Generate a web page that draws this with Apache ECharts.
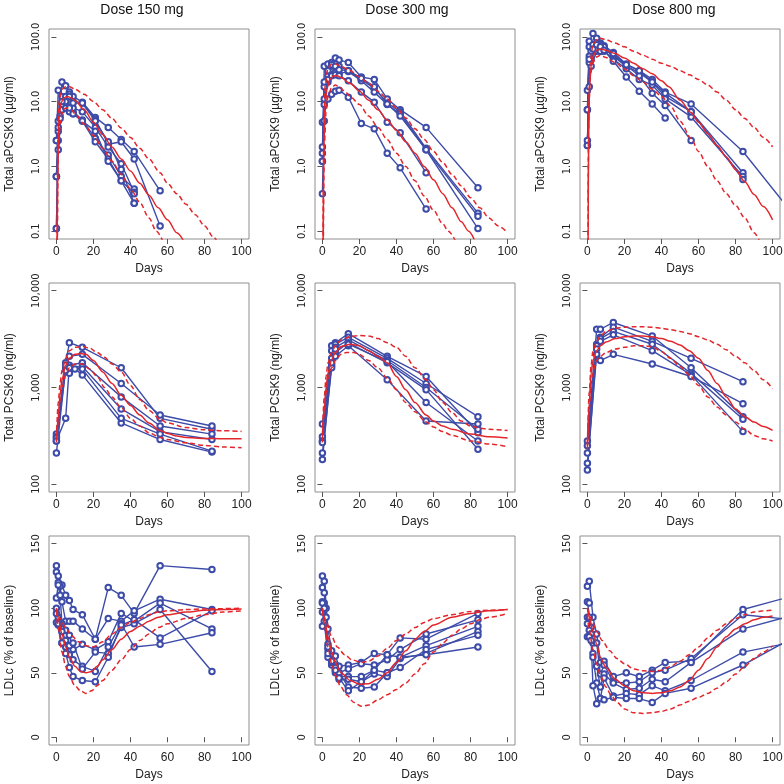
<!DOCTYPE html>
<html><head><meta charset="utf-8">
<script src="https://cdn.jsdelivr.net/npm/echarts@6/dist/echarts.min.js"></script>
<style>html,body{margin:0;padding:0;background:#fff}#c{width:784px;height:784px}</style>
</head><body><div id="c"></div>
<script>
// ---------- tick labels / titles ----------
const doseTitles = ['Dose 150 mg', 'Dose 300 mg', 'Dose 800 mg'];
const xTicks = [0, 20, 40, 60, 80, 100];
const yTicksRow1 = [0.1, 1, 10, 100];
const yTicksRow2 = [100, 1000, 10000];
const yTicksRow3 = [0, 50, 100, 150];
const yNames = ['Total aPCSK9 (\u00b5g/ml)', 'Total PCSK9 (ng/ml)', 'LDLc (% of baseline)'];

// ---------- Row 1: total aPCSK9 (µg/ml), observed subjects [day, value] ----------
const apcsk9_150_subjects = [
  [[0,0.11],[1,3.5],[3,20],[5,17.5],[7,14],[9,12],[14,9.8],[21,5.7],[28,4.0],[35,2.6],[42,1.7],[56,0.42]],
  [[0,2.5],[1,15],[3,12],[5,11],[7,13],[9,10],[14,9.5],[21,5.3],[28,2.2],[35,2.4],[42,1.3],[56,0.12]],
  [[0,0.7],[1,5],[2,6],[5,8],[7,7.5],[9,7],[14,5.2],[21,2.7],[28,1.5],[35,0.7],[42,0.45]],
  [[0,0.7],[1,2.5],[3,8],[5,9],[7,8],[9,6.5],[14,5],[21,2.4],[28,1.3],[35,0.6],[42,0.27]],
  [[0,2.5],[1,1.8],[3,9],[5,10],[7,7],[9,8],[14,7],[21,4],[28,2],[35,1.1],[42,0.4]],
  [[0,0.11],[1,4],[3,10],[5,12],[7,12],[9,9.5],[14,9.5],[21,5],[28,2.4],[35,0.9],[42,0.27]],
  [[0,0.7],[2,5.5],[3,7.5],[5,8],[7,8],[9,6.5],[14,5],[21,3.5],[28,1.2],[35,0.6],[42,0.38]]
];
const apcsk9_150_median = [[0.3,0.02],[0.8,1.5],[1.5,6],[2.5,9.5],[4,11.5],[6,12],[8,11.5],[10,10.5],[15,7.5],[20,4.8],[25,3.1],[30,2.0],[35,1.3],[40,0.85],[45,0.55],[50,0.36],[55,0.23],[60,0.15],[65,0.095],[70,0.06]];
const apcsk9_150_p95 = [[0.3,0.03],[0.8,3],[1.5,10],[3,15.5],[5,17],[7,17],[10,15.5],[15,13],[20,10],[25,7.5],[30,5.5],[35,3.9],[40,2.8],[45,1.9],[50,1.3],[56,0.8],[60,0.55],[65,0.38],[70,0.26],[75,0.18],[80,0.12],[85,0.08],[88,0.06]];
const apcsk9_150_p05 = [[0.4,0.02],[1,1.5],[2,4.5],[3,6.5],[4.5,7.8],[6,8],[8,7.5],[10,6.5],[15,4.5],[20,3],[25,1.9],[30,1.2],[35,0.75],[40,0.45],[45,0.28],[50,0.16],[54,0.1],[58,0.065]];

const apcsk9_300_subjects = [
  [[0,1.2],[1,35],[3,38],[5,40],[7,47],[9,44],[14,40],[21,24],[28,22],[35,11],[42,7.5],[56,4],[84,0.47]],
  [[0,2.0],[1,17],[3,25],[5,35],[7,38],[9,35],[14,30],[21,22],[28,16],[35,9.5],[42,7],[56,1.9],[84,0.19]],
  [[0,1.6],[1,11],[3,20],[5,26],[7,28],[9,27],[14,29],[21,21],[28,14],[35,9],[42,6.5],[56,1.8],[84,0.17]],
  [[0,4.8],[1,5],[3,11],[5,13],[7,14.5],[9,15],[14,11.7],[21,4.6],[28,3.8],[35,1.6],[42,0.95],[56,0.22]],
  [[0,0.38],[1,9],[3,22],[5,25],[7,26],[9,25],[14,21],[21,14],[28,9.8],[35,4.8],[42,3.3],[56,0.8]],
  [[0,1.2],[1,20],[3,30],[5,37],[7,35],[9,31],[14,30],[21,23],[28,17],[35,9.2],[42,6],[56,1.8],[84,0.11]]
];
const apcsk9_300_median = [[0.3,0.02],[0.8,2],[1.5,9],[2.5,16],[4,22],[6,25],[8,25],[10,23.5],[15,19],[20,14.5],[25,10.5],[30,7.5],[35,5.2],[40,3.6],[45,2.4],[50,1.6],[55,1.0],[60,0.62],[65,0.38],[70,0.23],[75,0.14],[79,0.1],[82,0.075]];
const apcsk9_300_p95 = [[0.3,0.05],[0.8,5],[1.5,18],[3,33],[5,38],[7,38],[10,35],[15,30],[20,24],[25,19],[30,14.5],[35,11],[40,8],[45,5.6],[50,3.8],[55,2.6],[60,1.7],[65,1.15],[70,0.75],[75,0.5],[80,0.33],[85,0.23],[90,0.16],[95,0.12],[100,0.095]];
const apcsk9_300_p05 = [[0.4,0.02],[1,2],[2,7],[3,12],[5,16.5],[7,18],[9,17],[12,14.5],[15,12],[20,9],[25,6],[30,4],[35,2.6],[40,1.6],[45,1],[50,0.6],[55,0.35],[60,0.21],[65,0.13],[68,0.1],[72,0.07]];

const apcsk9_800_subjects = [
  [[0,2.1],[1,85],[3,112],[5,95],[7,80],[9,73],[14,57],[21,38],[28,30],[35,22],[42,14],[56,9.2],[84,1.7],[112,0.17]],
  [[0,7.5],[1,70],[2,60],[5,80],[7,70],[9,65],[14,50],[21,35],[28,28],[35,20],[42,12],[56,7],[84,0.8]],
  [[0,15],[1,50],[2,45],[5,70],[7,60],[9,60],[14,45],[21,32],[28,22],[35,18],[42,11],[56,5.8],[84,0.7]],
  [[0,2.5],[1,17],[2,35],[5,60],[7,75],[9,62],[14,42],[21,24],[28,14.5],[35,9.2],[42,5.6]],
  [[0,2.1],[1,40],[3,75],[5,65],[7,60],[9,70],[14,52],[21,36],[28,25],[35,13.5],[42,8.7],[56,2.5]],
  [[0,7.5],[1,45],[3,65],[5,75],[7,70],[9,62],[14,55],[21,37],[28,30],[35,20],[42,13.5],[56,7],[84,0.63]]
];
const apcsk9_800_median = [[0.3,0.02],[0.7,3],[1.2,18],[2,35],[3,50],[5,62],[7,65],[10,62],[15,55],[20,47],[25,39],[30,32],[35,27],[40,21],[44,17],[50,10.5],[56,6.8],[60,4.8],[65,3.2],[70,2.1],[75,1.4],[80,0.9],[85,0.58],[90,0.37],[95,0.24],[100,0.15]];
const apcsk9_800_p95 = [[0.3,0.05],[0.7,10],[1.5,40],[3,75],[5,90],[7,95],[10,90],[15,80],[20,70],[25,60],[30,52],[35,45],[40,39],[45,35],[50,30],[55,26],[60,22],[65,18],[70,14],[75,10.5],[80,7.5],[85,5.5],[90,4],[95,2.8],[100,2]];
const apcsk9_800_p05 = [[0.4,0.3],[0.8,8],[1.5,25],[3,40],[5,49],[7,52],[10,48],[15,40],[20,32],[25,25],[30,20],[35,15.5],[40,12],[45,8.5],[50,5],[56,2.7],[60,1.7],[65,1],[70,0.6],[75,0.38],[80,0.25],[85,0.16],[90,0.095],[93,0.07]];

// ---------- Row 2: total PCSK9 (ng/ml) ----------
const pcsk9_150_subjects = [
  [[0,330],[5,1800],[7,2900],[14,2600],[35,1600],[56,480],[84,370]],
  [[0,310],[5,1700],[7,2100],[14,2200],[35,1100],[56,520],[84,400]],
  [[0,280],[5,480],[7,1700],[14,1800],[35,800],[56,400],[84,330]],
  [[0,210],[5,1600],[7,1600],[14,1650],[35,600],[56,350],[84,290]],
  [[0,300],[5,1700],[7,1400],[10,1550],[14,1350],[35,430],[56,290],[84,215]],
  [[0,280],[5,1500],[7,1600],[14,1550],[35,480],[56,330],[84,220]]
];
const pcsk9_150_median = [[0,280],[1,500],[2,850],[3,1200],[5,1700],[7,2000],[10,2200],[13,2250],[16,2200],[20,1900],[25,1450],[30,1100],[35,830],[40,650],[45,520],[50,430],[56,360],[60,335],[65,315],[70,305],[80,298],[90,295],[100,295]];
const pcsk9_150_p95 = [[0,300],[1,700],[2,1100],[3,1500],[5,2000],[7,2400],[10,2600],[14,2650],[18,2550],[22,2300],[26,2050],[30,1750],[35,1450],[40,1050],[45,750],[50,580],[56,470],[60,430],[70,385],[80,365],[90,358],[100,352]];
const pcsk9_150_p05 = [[0,270],[1,450],[2,750],[3,1000],[5,1350],[7,1600],[10,1750],[14,1750],[18,1550],[22,1300],[26,1000],[30,800],[35,620],[40,480],[45,400],[50,340],[56,305],[60,290],[70,268],[80,252],[90,243],[100,238]];

const pcsk9_300_subjects = [
  [[0,420],[5,2700],[7,2900],[14,3600],[35,2100],[56,1300],[84,340]],
  [[0,310],[5,2400],[7,2800],[14,3300],[35,2000],[56,1100],[84,500]],
  [[0,280],[5,2000],[7,2600],[14,3100],[35,1900],[56,1000],[84,370]],
  [[0,270],[5,1700],[7,2300],[14,2900],[35,1800],[56,950],[84,230]],
  [[0,210],[5,1600],[7,2100],[14,2700],[35,1200],[56,450],[84,420]],
  [[0,180],[5,1800],[7,2500],[14,2800],[35,1850],[56,700],[84,280]]
];
const pcsk9_300_median = [[0,300],[1,600],[2,1000],[3,1400],[5,1950],[7,2300],[10,2650],[15,2800],[20,2700],[25,2400],[30,2100],[35,1800],[40,1300],[45,950],[50,700],[56,520],[60,450],[65,400],[70,370],[80,330],[90,310],[100,300]];
const pcsk9_300_p95 = [[0,320],[1,800],[2,1300],[3,1800],[5,2300],[7,2700],[10,3100],[15,3350],[20,3450],[25,3400],[30,3200],[35,2900],[40,2600],[45,2100],[50,1600],[56,1200],[60,950],[65,700],[70,550],[75,450],[80,400],[85,380],[90,370],[100,360]];
const pcsk9_300_p05 = [[0,270],[1,550],[2,900],[3,1200],[5,1600],[7,1900],[10,2200],[13,2300],[17,2300],[20,2200],[25,1900],[30,1600],[35,1250],[40,950],[45,700],[50,560],[56,440],[60,390],[65,350],[70,320],[80,280],[90,260],[100,245]];

const pcsk9_800_subjects = [
  [[0,280],[5,4000],[7,4000],[14,4700],[35,3400],[56,1600],[84,500]],
  [[0,250],[5,2800],[7,3300],[14,4200],[35,3000],[56,2000],[84,1150]],
  [[0,210],[5,2700],[7,3200],[14,3800],[35,2800],[56,1400],[84,470]],
  [[0,165],[5,2200],[7,3000],[14,3500],[35,2400],[56,1350],[84,350]],
  [[0,140],[5,2500],[7,1900],[14,2200],[35,1750],[56,1300],[84,680]]
];
const pcsk9_800_median = [[0,250],[1,700],[2,1400],[3,1900],[5,2400],[7,2700],[10,2950],[15,3200],[20,3350],[25,3400],[30,3400],[35,3350],[40,3200],[45,3000],[50,2750],[55,2400],[60,2000],[65,1500],[70,1100],[75,800],[80,600],[85,500],[90,440],[95,395],[100,360]];
const pcsk9_800_p95 = [[0,260],[1,900],[2,1700],[3,2400],[5,3000],[7,3400],[10,3800],[15,4100],[20,4200],[25,4250],[30,4250],[35,4200],[40,4100],[45,3950],[50,3800],[55,3600],[60,3350],[65,3100],[70,2800],[75,2450],[80,2100],[85,1800],[90,1500],[95,1200],[100,970]];
const pcsk9_800_p05 = [[0,230],[1,600],[2,1100],[3,1500],[5,1900],[7,2100],[10,2300],[15,2500],[20,2600],[25,2700],[30,2700],[35,2650],[40,2350],[45,2000],[50,1650],[55,1350],[60,1050],[65,800],[70,630],[75,520],[80,440],[85,370],[90,320],[95,295],[100,280]];

// ---------- Row 3: LDLc (% of baseline) ----------
const ldl_150_subjects = [
  [[0,128],[1,125],[3,118],[5,110],[7,106],[9,99],[14,95],[21,76],[28,116],[35,110],[42,96],[56,133],[84,130]],
  [[0,133],[1,120],[2,117],[3,105],[5,90],[7,90],[9,90],[14,84],[21,76],[28,92],[35,90],[42,98],[56,107],[84,99]],
  [[0,108],[1,118],[2,110],[3,88],[5,83],[7,79],[9,68],[14,72],[21,68],[28,74],[35,96],[42,90],[56,104],[84,84]],
  [[0,100],[1,93],[3,82],[5,75],[7,64],[9,60],[14,55],[21,51],[28,70],[35,88],[42,70],[56,72],[84,81]],
  [[0,96],[1,87],[2,88],[3,73],[5,70],[7,71],[9,73],[14,53],[21,66],[28,65],[35,85],[42,88],[56,99],[84,51]],
  [[0,89],[1,88],[3,73],[5,65],[7,54],[9,47],[14,44],[21,43],[28,62],[35,87],[42,91],[56,77],[84,98]]
];
const ldl_150_median = [[0,100],[1,92],[3,80],[5,70],[7,62],[10,55],[13,51],[16,50],[19,51],[22,55],[25,60],[30,68],[35,76],[40,82],[45,86],[50,90],[55,93],[60,95],[70,97],[80,98.5],[90,99],[100,99.5]];
const ldl_150_p95 = [[0,100],[2,92],[5,85],[8,79],[12,74],[16,71],[20,70],[25,74],[30,80],[35,85],[40,89],[45,92],[50,95],[55,97],[60,98],[70,99],[80,99.5],[100,100]];
const ldl_150_p05 = [[0,98],[1,85],[3,66],[5,55],[7,47],[10,40],[13,36],[16,34],[19,36],[22,40],[25,44],[30,52],[35,60],[40,68],[45,75],[50,80],[55,85],[60,88],[70,92],[80,95],[90,97],[100,98]];

const ldl_300_subjects = [
  [[0,125],[1,121],[3,84],[5,67],[7,63],[9,55],[14,56],[21,58],[28,65],[35,64],[42,77],[56,76],[84,96]],
  [[0,116],[1,112],[3,72],[5,60],[7,56],[9,50],[14,53],[21,57],[28,56],[35,60],[42,68],[56,80],[84,91]],
  [[0,105],[1,104],[2,100],[3,68],[5,57],[7,52],[9,47],[14,47],[21,47],[28,52],[35,50],[42,62],[56,71],[84,86]],
  [[0,104],[1,90],[3,62],[5,56],[7,50],[9,45],[14,45],[21,43],[28,49],[35,47],[42,61],[56,65],[84,82]],
  [[0,97],[2,93],[3,65],[5,58],[7,54],[9,50],[14,39],[21,38],[28,39],[35,50],[42,54],[56,68],[84,79]],
  [[0,86],[1,100],[3,70],[5,59],[7,52],[9,46],[14,36],[21,43],[28,52],[35,64],[42,62],[56,64],[84,70]]
];
const ldl_300_median = [[0,100],[1,92],[3,78],[5,66],[7,58],[10,50],[15,44],[20,41],[25,41.5],[30,45],[35,50],[40,58],[45,67],[50,76],[55,82],[60,87],[70,93],[80,96],[90,98],[100,99]];
const ldl_300_p95 = [[0,100],[2,90],[5,78],[8,70],[12,64],[16,60],[21,58],[25,59],[30,63],[35,69],[40,75],[45,80],[50,85],[55,89],[60,92],[70,95],[80,97.5],[90,98.5],[100,99]];
const ldl_300_p05 = [[0,98],[1,88],[3,70],[5,57],[7,48],[10,39],[13,33],[17,27],[21,24],[25,25],[30,29],[35,33],[40,37],[45,42],[50,49],[55,57],[60,66],[65,73],[70,79],[75,84],[80,88],[85,91],[90,93],[100,96]];

const ldl_800_subjects = [
  [[0,117],[1,121],[3,93],[5,80],[7,58],[9,59],[14,47],[21,50],[28,47],[35,52],[42,58],[56,59],[84,99],[112,110]],
  [[0,105],[1,104],[2,85],[3,73],[5,73],[7,49],[9,56],[14,43],[21,42],[28,43],[35,50],[42,52],[56,61],[84,95],[112,91]],
  [[0,93],[1,93],[3,65],[5,55],[7,39],[9,49],[14,42],[21,37],[28,38],[35,45],[42,43],[56,58],[84,84],[112,95]],
  [[0,88],[1,83],[2,80],[3,62],[5,42],[7,30],[9,46],[14,32],[21,34],[28,33],[35,40],[42,36],[56,44],[84,66],[112,74]],
  [[0,78],[1,78],[2,75],[3,40],[5,26],[7,30],[9,29],[14,31],[21,30],[28,30],[35,27],[42,34],[56,38],[84,56],[112,78]]
];
const ldl_800_median = [[0,100],[1,93],[3,82],[5,72],[7,62],[10,54],[15,45],[20,40],[25,36],[30,34.5],[35,34],[40,34.5],[45,36],[50,39],[55,44],[60,52],[65,61],[70,70],[75,78],[80,84],[85,88],[90,91],[95,93],[100,94]];
const ldl_800_p95 = [[0,100],[2,92],[5,82],[8,75],[12,67],[16,61],[20,57],[25,53],[30,51.5],[35,51],[40,52],[45,55],[50,59],[55,64],[60,70],[65,77],[70,83],[75,88],[80,92],[85,95],[90,97],[95,98],[100,98.5]];
const ldl_800_p05 = [[0,95],[1,83],[3,68],[5,57],[7,48],[10,39],[13,32],[16,27],[20,22],[25,19],[30,18.5],[35,19],[40,20],[45,22],[50,25],[55,28],[60,31],[65,34],[70,38],[75,43],[80,49],[85,55],[90,61],[95,66],[100,71]];

// ---------- build ----------
const panels = [
  [apcsk9_150_subjects, apcsk9_150_median, apcsk9_150_p95, apcsk9_150_p05],
  [apcsk9_300_subjects, apcsk9_300_median, apcsk9_300_p95, apcsk9_300_p05],
  [apcsk9_800_subjects, apcsk9_800_median, apcsk9_800_p95, apcsk9_800_p05],
  [pcsk9_150_subjects, pcsk9_150_median, pcsk9_150_p95, pcsk9_150_p05],
  [pcsk9_300_subjects, pcsk9_300_median, pcsk9_300_p95, pcsk9_300_p05],
  [pcsk9_800_subjects, pcsk9_800_median, pcsk9_800_p95, pcsk9_800_p05],
  [ldl_150_subjects, ldl_150_median, ldl_150_p95, ldl_150_p05],
  [ldl_300_subjects, ldl_300_median, ldl_300_p95, ldl_300_p05],
  [ldl_800_subjects, ldl_800_median, ldl_800_p95, ldl_800_p05]
];

const FONT = 'Liberation Sans, Arial, Helvetica, sans-serif';
const NARROW = 'Liberation Sans Narrow, DejaVu Sans Condensed, Liberation Sans, sans-serif';
const BLUE = '#3d4ca8';
const RED = '#e3262b';
const colLeft = [49, 315, 580];
const rowTop = [29, 283, 536];
const rowH = [210, 209, 209];

const grids = [], xAxes = [], yAxes = [], series = [];
for (let r = 0; r < 3; r++) {
  for (let c = 0; c < 3; c++) {
    const i = r * 3 + c;
    grids.push({left: colLeft[c], top: rowTop[r], width: 200, height: rowH[r],
      show: true, borderColor: '#8f8f8f', borderWidth: 1, backgroundColor: 'transparent',
      containLabel: false, outerBoundsMode: 'none'});
    xAxes.push({type: 'value', gridIndex: i, min: -4, max: 104,
      name: 'Days', nameLocation: 'middle', nameGap: 24,
      nameTextStyle: {fontFamily: FONT, fontSize: 12, color: '#222'},
      axisLine: {show: false}, splitLine: {show: false},
      axisTick: {show: true, length: 5, customValues: xTicks, lineStyle: {color: '#555'}},
      axisLabel: {customValues: xTicks, margin: 7, fontFamily: FONT, fontSize: 12, color: '#222'}});
    let y;
    if (r === 0) {
      y = {type: 'log', logBase: 10, min: 0.0759, max: 131.8, ticks: yTicksRow1,
           fmt: v => Number(v).toFixed(1)};
    } else if (r === 1) {
      y = {type: 'log', logBase: 10, min: 83.18, max: 12023, ticks: yTicksRow2,
           fmt: v => Math.round(v).toLocaleString('en-US')};
    } else {
      y = {type: 'value', min: -6, max: 156, ticks: yTicksRow3, fmt: v => String(Math.round(v))};
    }
    yAxes.push({type: y.type, logBase: y.logBase, gridIndex: i, min: y.min, max: y.max,
      name: yNames[r], nameLocation: 'middle', nameGap: 33, nameRotate: 90,
      nameTextStyle: {fontFamily: FONT, fontSize: 12, color: '#222'},
      axisLine: {show: false}, splitLine: {show: false}, minorTick: {show: false},
      axisTick: {show: true, length: 5, customValues: y.ticks, lineStyle: {color: '#555'}},
      axisLabel: {customValues: y.ticks, rotate: 90, margin: 7, fontFamily: NARROW, fontSize: 11,
                  color: '#222', formatter: y.fmt}});
    const [subs, med, hi, lo] = panels[i];
    subs.forEach(s => {
      series.push({type: 'line', xAxisIndex: i, yAxisIndex: i, data: s, clip: true,
        symbol: 'emptyCircle', symbolSize: 5.5, showSymbol: true, z: 2,
        itemStyle: {color: BLUE, borderColor: BLUE, borderWidth: 1.1},
        lineStyle: {color: BLUE, width: 1.4}, emphasis: {disabled: true}});
    });
    [[hi, 'dashed'], [lo, 'dashed'], [med, 'solid']].forEach(([d, t]) => {
      series.push({type: 'line', xAxisIndex: i, yAxisIndex: i, data: d, clip: true,
        symbol: 'none', smooth: 0.3, smoothMonotone: 'x', z: 3,
        lineStyle: {color: RED, width: 1.5, type: t === 'dashed' ? [5, 3] : 'solid'},
        emphasis: {disabled: true}});
    });
  }
}

const titleX = [142, 407, 674];
const graphics = doseTitles.map((t, k) => ({type: 'text', x: titleX[k], y: 10, z: 10,
  style: {text: t, font: '14px ' + FONT, fill: '#111', align: 'center', verticalAlign: 'middle',
          textAlign: 'center', textVerticalAlign: 'middle'}}));

const chart = echarts.init(document.getElementById('c'), null, {renderer: 'canvas'});
chart.setOption({animation: false, backgroundColor: '#fff', grid: grids, xAxis: xAxes, yAxis: yAxes,
  series: series, graphic: graphics, tooltip: {show: false}});
</script></body></html>
